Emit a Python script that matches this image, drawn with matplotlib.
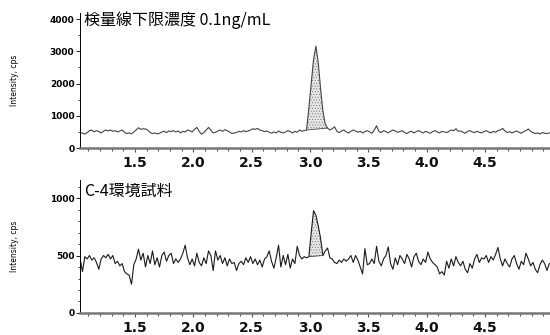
import numpy as np
import matplotlib
matplotlib.use("Agg")
import matplotlib.pyplot as plt
from matplotlib.ticker import MultipleLocator

plt.rcParams["hatch.linewidth"] = 0.4

# retention time grid (min), one point every 0.02 min
t_start = 1.03
t_step = 0.02

# upper trace: lower limit of quantification (0.1 ng/mL)
llq_cps = [
    450, 470, 430, 480, 540, 560, 500, 540, 510, 470,
    520, 560, 530, 560, 520, 540, 500, 530, 560, 490,
    450, 470, 440, 500, 560, 630, 580, 600, 590, 560,
    480, 450, 470, 440, 460, 500, 520, 480, 530, 510,
    540, 500, 530, 470, 520, 500, 560, 540, 500, 580,
    640, 520, 430, 480, 560, 640, 560, 470, 490, 530,
    560, 520, 570, 540, 500, 450, 470, 480, 520, 500,
    540, 510, 530, 560, 600, 580, 610, 560, 540, 510,
    530, 490, 460, 500, 470, 530, 490, 470, 500, 540,
    510, 470, 520, 490, 560, 520, 540, 560, 1250, 2000,
    2750, 3160, 2650, 1850, 1150, 750, 620, 560, 600, 660,
    520, 480, 530, 560, 500, 470, 520, 560, 530, 490,
    520, 470, 510, 540, 500, 460, 560, 690, 520, 480,
    540, 510, 470, 520, 560, 530, 490, 510, 540, 480,
    450, 500, 520, 470, 510, 540, 500, 470, 520, 490,
    460, 510, 540, 500, 470, 520, 500, 480, 520, 560,
    540, 600, 520, 530, 490, 460, 520, 540, 500, 480,
    520, 490, 470, 510, 540, 500, 470, 520, 490, 540,
    560, 610, 530, 480, 510, 470, 500, 530, 490, 460,
    510, 540, 590, 520, 480, 450, 470, 440, 480, 460,
    450, 470,
]

# lower trace: C-4 environmental sample
c4_cps = [
    470, 360, 490, 470, 500, 460, 480, 440, 380, 470,
    500, 480, 510, 470, 500, 430, 450, 410, 430, 360,
    340, 330, 250, 420, 470, 555, 460, 520, 400, 500,
    430, 540, 420, 480, 400, 500, 530, 450, 500, 520,
    430, 470, 440, 470, 520, 590, 480, 420, 470, 410,
    520, 440, 410, 480, 430, 540, 500, 370, 540, 460,
    500, 430, 480, 410, 470, 430, 440, 370, 430, 450,
    420, 480, 440, 490, 430, 470, 420, 460, 400, 470,
    490, 540, 450, 390, 480, 590, 400, 500, 420, 510,
    390, 470, 430, 580, 500, 470, 490, 480, 490, 700,
    890, 850, 760, 650, 500, 540, 565, 480, 470, 440,
    430, 460, 440, 470, 450, 470, 500, 440, 500, 460,
    400, 340, 560, 420, 430, 470, 430, 580, 450, 410,
    470, 500, 575, 430, 380, 480, 420, 500, 470, 430,
    510, 470, 400, 490, 520, 450, 420, 470, 440, 530,
    470, 440, 420, 400, 340, 360, 330, 450, 390, 470,
    410, 490, 440, 410, 450, 380, 350, 430, 390, 470,
    510, 440, 480, 470, 500, 440, 490, 460, 510, 570,
    470, 410, 470, 430, 400, 470, 500, 430, 380, 450,
    420, 520, 470, 410, 440, 380, 350, 420, 460, 430,
    370, 430,
]

# integrated peak windows (start, end) in minutes
llq_peak = (2.97, 3.15)
c4_peak = (2.99, 3.11)

titles = ["検量線下限濃度 0.1ng/mL", "C-4環境試料"]
x_ticks = [1.5, 2.0, 2.5, 3.0, 3.5, 4.0, 4.5]

t = np.round(t_start + t_step * np.arange(len(c4_cps)), 3)

fig = plt.figure(figsize=(5.5, 3.35), dpi=100)
ax_top = fig.add_axes([0.1455, 0.558, 0.8545, 0.403])
ax_bot = fig.add_axes([0.1455, 0.0657, 0.8545, 0.397])

panels = [
    (ax_top, np.array(llq_cps), llq_peak, 4186, 1000, 500, "#444444", 1.01),
    (ax_bot, np.array(c4_cps), c4_peak, 1157, 500, 100, "#1a1a1a", 0.975),
]

for (ax, y, peak, ytop, ymaj, ymin, lc, ty), title in zip(panels, titles):
    ax.plot(t, y, color=lc, lw=0.8)
    # shaded peak area above the straight baseline
    m = (t >= peak[0] - 1e-6) & (t <= peak[1] + 1e-6)
    tb = t[m]
    base = np.interp(tb, [tb[0], tb[-1]], [y[m][0], y[m][-1]])
    ax.fill_between(tb, base, y[m], facecolor="#e6e6e6", edgecolor="#777777",
                    hatch="......", lw=0.0)
    ax.plot(tb[[0, -1]], base[[0, -1]], color="#444444", lw=0.6)

    ax.set_xlim(1.029, 5.056)
    ax.set_ylim(0, ytop)
    ax.yaxis.set_major_locator(MultipleLocator(ymaj))
    ax.yaxis.set_minor_locator(MultipleLocator(ymin))
    ax.set_xticks(x_ticks)
    ax.xaxis.set_minor_locator(MultipleLocator(0.1))
    ax.set_xticklabels([f"{v:.1f}" for v in x_ticks], fontsize=10,
                       fontweight="bold", color="#111111")
    for lab in ax.get_yticklabels():
        lab.set_fontsize(6.5)
        lab.set_fontweight("bold")
    ax.tick_params(axis="x", which="major", length=3, width=0.8, pad=3,
                   color="#555555")
    ax.tick_params(axis="x", which="minor", length=2, width=0.8,
                   color="#555555")
    ax.tick_params(axis="y", which="major", length=3, width=0.6, pad=1)
    ax.tick_params(axis="y", which="minor", length=1.5, width=0.5)

    for s in ["top", "right"]:
        ax.spines[s].set_visible(False)
    ax.spines["left"].set_linewidth(0.7)
    ax.spines["bottom"].set_linewidth(1.8)
    ax.spines["bottom"].set_color("#777777")

    ax.set_ylabel("Intensity, cps", fontsize=5.5, labelpad=22)
    ax.text(0.008, ty, title, transform=ax.transAxes, ha="left", va="top",
            fontsize=11.5, family=["Noto Sans CJK JP", "DejaVu Sans"])

fig.savefig("out.png", dpi=100)
